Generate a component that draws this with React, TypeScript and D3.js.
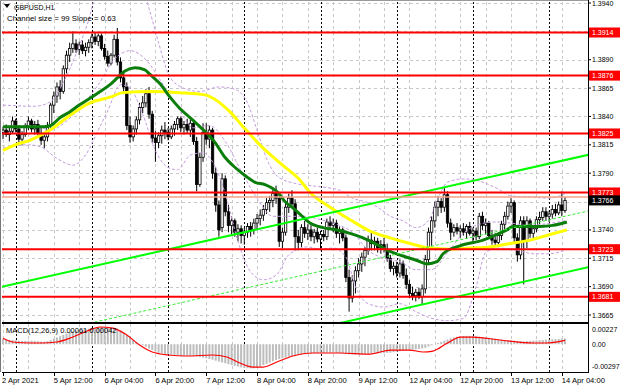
import React from 'react';
import * as d3 from 'd3';

// ---- data ----
const symbolTitle = 'GBPUSD,H1';
const channelText = 'Channel size = 99 Slope = 0.63';
const macdText = 'MACD(12,26,9) 0.00061 0.00042';

const timeLabels = ['2 Apr 2021', '5 Apr 12:00', '6 Apr 04:00', '6 Apr 20:00', '7 Apr 12:00', '8 Apr 04:00',
  '8 Apr 20:00', '9 Apr 12:00', '12 Apr 04:00', '12 Apr 20:00', '13 Apr 12:00', '14 Apr 04:00'];
const labelStep = 16; // bars between time labels
const daySeparators = [4, 28, 52, 76, 100, 124, 148, 172];

const priceTicks = [1.394, 1.389, 1.3865, 1.384, 1.3815, 1.379, 1.374, 1.3715, 1.369, 1.3665];
const gridPrices = [1.394, 1.3915, 1.389, 1.3865, 1.384, 1.3815, 1.379, 1.3765, 1.374, 1.3715, 1.369, 1.3665];
const levels = [1.3914, 1.3876, 1.3825, 1.3773, 1.3723, 1.3681];
const askPrice = 1.3769;
const lastPrice = 1.3766;

// open, high, low, close per H1 bar (2 Apr 20:00 .. 14 Apr 05:00)
const candles: [number, number, number, number][] = [
  [1.3826, 1.3831, 1.3820, 1.3828], [1.3828, 1.3833, 1.3822, 1.3824], [1.3824, 1.3830, 1.3818, 1.3827], [1.3827, 1.3840, 1.3825, 1.3836],
  [1.3836, 1.3838, 1.3826, 1.3829], [1.3829, 1.3832, 1.3816, 1.3820], [1.3820, 1.3827, 1.3815, 1.3824], [1.3824, 1.3834, 1.3822, 1.3832],
  [1.3832, 1.3840, 1.3828, 1.3836], [1.3836, 1.3838, 1.3826, 1.3829], [1.3829, 1.3836, 1.3824, 1.3833], [1.3833, 1.3837, 1.3822, 1.3825],
  [1.3825, 1.3830, 1.3815, 1.3819], [1.3819, 1.3826, 1.3812, 1.3822], [1.3822, 1.3835, 1.3818, 1.3832], [1.3832, 1.3852, 1.3830, 1.3850],
  [1.3850, 1.3862, 1.3843, 1.3858], [1.3858, 1.3870, 1.3852, 1.3866], [1.3866, 1.3872, 1.3855, 1.3862], [1.3862, 1.3885, 1.3860, 1.3882],
  [1.3882, 1.3898, 1.3878, 1.3894], [1.3894, 1.3905, 1.3888, 1.3900], [1.3900, 1.3915, 1.3896, 1.3904], [1.3904, 1.3908, 1.3896, 1.3899],
  [1.3899, 1.3906, 1.3894, 1.3903], [1.3903, 1.3907, 1.3895, 1.3898], [1.3898, 1.3905, 1.3893, 1.3901], [1.3901, 1.3908, 1.3896, 1.3905],
  [1.3905, 1.3913, 1.3900, 1.3910], [1.3910, 1.3914, 1.3903, 1.3906], [1.3906, 1.3913, 1.3902, 1.3911], [1.3911, 1.3913, 1.3898, 1.3900],
  [1.3900, 1.3904, 1.3890, 1.3893], [1.3893, 1.3898, 1.3884, 1.3887], [1.3887, 1.3896, 1.3885, 1.3894], [1.3894, 1.3912, 1.3892, 1.3908],
  [1.3908, 1.3918, 1.3885, 1.3888], [1.3888, 1.3892, 1.3870, 1.3874], [1.3874, 1.3880, 1.3862, 1.3866], [1.3866, 1.3870, 1.3828, 1.3832],
  [1.3832, 1.3840, 1.3817, 1.3822], [1.3822, 1.3832, 1.3818, 1.3829], [1.3829, 1.3840, 1.3824, 1.3837], [1.3837, 1.3852, 1.3833, 1.3848],
  [1.3848, 1.3858, 1.3843, 1.3852], [1.3852, 1.3864, 1.3848, 1.3860], [1.3860, 1.3866, 1.3838, 1.3842], [1.3842, 1.3845, 1.3817, 1.3821],
  [1.3821, 1.3827, 1.3800, 1.3817], [1.3817, 1.3826, 1.3812, 1.3823], [1.3823, 1.3832, 1.3816, 1.3828], [1.3828, 1.3835, 1.3820, 1.3826],
  [1.3826, 1.3830, 1.3819, 1.3822], [1.3822, 1.3832, 1.3820, 1.3829], [1.3829, 1.3836, 1.3823, 1.3833], [1.3833, 1.3840, 1.3828, 1.3838],
  [1.3838, 1.3840, 1.3826, 1.3830], [1.3830, 1.3836, 1.3824, 1.3833], [1.3833, 1.3838, 1.3825, 1.3828], [1.3828, 1.3837, 1.3822, 1.3834],
  [1.3834, 1.3837, 1.3815, 1.3818], [1.3818, 1.3822, 1.3774, 1.3780], [1.3780, 1.3808, 1.3778, 1.3804], [1.3804, 1.3834, 1.3800, 1.3826],
  [1.3826, 1.3834, 1.3815, 1.3820], [1.3820, 1.3832, 1.3812, 1.3828], [1.3828, 1.3830, 1.3785, 1.3790], [1.3790, 1.3795, 1.3756, 1.3762],
  [1.3762, 1.3766, 1.3734, 1.3740], [1.3742, 1.3790, 1.3738, 1.3785], [1.3785, 1.3788, 1.3752, 1.3756], [1.3756, 1.3762, 1.3738, 1.3744],
  [1.3744, 1.3752, 1.3736, 1.3748], [1.3748, 1.3750, 1.3734, 1.3738], [1.3738, 1.3745, 1.3730, 1.3741], [1.3741, 1.3744, 1.3728, 1.3735],
  [1.3735, 1.3742, 1.3727, 1.3738], [1.3738, 1.3746, 1.3733, 1.3743], [1.3743, 1.3747, 1.3734, 1.3740], [1.3740, 1.3750, 1.3736, 1.3746],
  [1.3746, 1.3754, 1.3740, 1.3750], [1.3750, 1.3758, 1.3744, 1.3753], [1.3753, 1.3762, 1.3748, 1.3758], [1.3758, 1.3768, 1.3754, 1.3764],
  [1.3764, 1.3770, 1.3756, 1.3766], [1.3766, 1.3776, 1.3760, 1.3772], [1.3772, 1.3779, 1.3763, 1.3768], [1.3768, 1.3772, 1.3725, 1.3730],
  [1.3730, 1.3742, 1.3724, 1.3738], [1.3738, 1.3765, 1.3735, 1.3760], [1.3760, 1.3772, 1.3755, 1.3768], [1.3768, 1.3775, 1.3760, 1.3763],
  [1.3763, 1.3767, 1.3722, 1.3734], [1.3734, 1.3740, 1.3722, 1.3729], [1.3729, 1.3745, 1.3725, 1.3742], [1.3742, 1.3748, 1.3733, 1.3737],
  [1.3737, 1.3745, 1.3731, 1.3740], [1.3740, 1.3744, 1.3730, 1.3734], [1.3734, 1.3741, 1.3728, 1.3738], [1.3738, 1.3742, 1.3729, 1.3732],
  [1.3732, 1.3739, 1.3722, 1.3736], [1.3736, 1.3740, 1.3730, 1.3734], [1.3734, 1.3750, 1.3731, 1.3747], [1.3747, 1.3752, 1.3740, 1.3744],
  [1.3744, 1.3750, 1.3738, 1.3746], [1.3746, 1.3749, 1.3733, 1.3737], [1.3737, 1.3743, 1.3728, 1.3740], [1.3740, 1.3742, 1.3730, 1.3733],
  [1.3733, 1.3736, 1.3694, 1.3698], [1.3698, 1.3705, 1.3668, 1.3680], [1.3680, 1.3700, 1.3676, 1.3695], [1.3695, 1.3708, 1.3684, 1.3704],
  [1.3704, 1.3715, 1.3698, 1.3710], [1.3710, 1.3720, 1.3703, 1.3716], [1.3716, 1.3725, 1.3708, 1.3722], [1.3722, 1.3735, 1.3718, 1.3731],
  [1.3731, 1.3738, 1.3722, 1.3728], [1.3728, 1.3734, 1.3722, 1.3730], [1.3730, 1.3733, 1.3720, 1.3724], [1.3724, 1.3731, 1.3719, 1.3727],
  [1.3727, 1.3733, 1.3720, 1.3723], [1.3723, 1.3728, 1.3712, 1.3715], [1.3715, 1.3718, 1.3703, 1.3706], [1.3706, 1.3712, 1.3700, 1.3708],
  [1.3708, 1.3712, 1.3698, 1.3702], [1.3702, 1.3714, 1.3698, 1.3710], [1.3710, 1.3713, 1.3697, 1.3700], [1.3700, 1.3706, 1.3688, 1.3692],
  [1.3692, 1.3696, 1.3680, 1.3684], [1.3684, 1.3690, 1.3678, 1.3682], [1.3682, 1.3688, 1.3677, 1.3685], [1.3685, 1.3689, 1.3679, 1.3681],
  [1.3681, 1.3692, 1.3674, 1.3688], [1.3688, 1.3718, 1.3684, 1.3714], [1.3714, 1.3742, 1.3710, 1.3738], [1.3738, 1.3752, 1.3726, 1.3748],
  [1.3748, 1.3765, 1.3742, 1.3760], [1.3760, 1.3770, 1.3752, 1.3765], [1.3765, 1.3768, 1.3755, 1.3760], [1.3760, 1.3777, 1.3756, 1.3771],
  [1.3771, 1.3774, 1.3742, 1.3746], [1.3746, 1.3750, 1.3731, 1.3738], [1.3738, 1.3745, 1.3734, 1.3742], [1.3742, 1.3746, 1.3736, 1.3739],
  [1.3739, 1.3744, 1.3733, 1.3741], [1.3741, 1.3746, 1.3735, 1.3738], [1.3738, 1.3745, 1.3732, 1.3743], [1.3743, 1.3747, 1.3735, 1.3737],
  [1.3737, 1.3742, 1.3730, 1.3739], [1.3739, 1.3742, 1.3731, 1.3734], [1.3734, 1.3755, 1.3732, 1.3752], [1.3752, 1.3756, 1.3740, 1.3744],
  [1.3744, 1.3750, 1.3736, 1.3746], [1.3746, 1.3748, 1.3732, 1.3735], [1.3735, 1.3740, 1.3727, 1.3731], [1.3731, 1.3737, 1.3726, 1.3729],
  [1.3729, 1.3738, 1.3727, 1.3735], [1.3735, 1.3748, 1.3731, 1.3745], [1.3745, 1.3756, 1.3740, 1.3752], [1.3752, 1.3765, 1.3749, 1.3761],
  [1.3761, 1.3768, 1.3755, 1.3764], [1.3764, 1.3766, 1.3729, 1.3733], [1.3733, 1.3737, 1.3712, 1.3718], [1.3718, 1.3752, 1.3714, 1.3748],
  [1.3748, 1.3752, 1.3692, 1.3730], [1.3730, 1.3752, 1.3724, 1.3748], [1.3748, 1.3750, 1.3733, 1.3737], [1.3737, 1.3744, 1.3732, 1.3741],
  [1.3741, 1.3752, 1.3738, 1.3749], [1.3749, 1.3756, 1.3744, 1.3751], [1.3751, 1.3760, 1.3748, 1.3756], [1.3756, 1.3760, 1.3748, 1.3752],
  [1.3752, 1.3757, 1.3747, 1.3754], [1.3754, 1.3762, 1.3750, 1.3758], [1.3758, 1.3763, 1.3752, 1.3755], [1.3755, 1.3765, 1.3753, 1.3762],
  [1.3762, 1.3774, 1.3752, 1.3757], [1.3757, 1.3769, 1.3755, 1.3766],
];

// moving averages, [bar, price] read at key points
const maGreen: [number, number][] = [
  [0, 1.3831], [13, 1.3831], [15, 1.3832], [18, 1.3839], [21, 1.3844], [24, 1.385], [27.4, 1.3856], [30.6, 1.3862],
  [33.7, 1.3868], [36, 1.3874], [38.4, 1.388], [41.6, 1.3883], [44.7, 1.3881], [46.3, 1.3877], [49.4, 1.3869],
  [52.6, 1.3857], [55.7, 1.3847], [58.9, 1.3839], [62, 1.3831], [64.3, 1.3825], [66.8, 1.3817], [69.9, 1.3804],
  [73.1, 1.3795], [76.2, 1.3788], [79.4, 1.3782], [82.5, 1.378], [84.7, 1.3777], [86.6, 1.3773], [88.8, 1.3765],
  [91, 1.376], [93.5, 1.3754], [96.7, 1.3746], [100.8, 1.3742], [105.2, 1.374], [109.3, 1.3737], [113.4, 1.3733],
  [117.8, 1.3727], [121.9, 1.3721], [126, 1.3717], [130.4, 1.3713], [133.5, 1.371], [136.7, 1.3712], [138.6, 1.3719],
  [143.9, 1.3726], [151.2, 1.3731], [155.6, 1.3736], [158.7, 1.374], [160.6, 1.3743], [165, 1.3743], [169.1, 1.3743],
  [173.2, 1.3744], [177.6, 1.3747],
];
const maYellow: [number, number][] = [
  [0, 1.381], [3.8, 1.3815], [8.5, 1.3819], [14.8, 1.3828], [21.1, 1.3841], [27.4, 1.3852], [33.7, 1.3857],
  [37.8, 1.3861], [46.3, 1.3862], [55.7, 1.3861], [63.6, 1.3859], [66.8, 1.3855], [71.5, 1.3844], [75.6, 1.3831],
  [80.9, 1.3815], [87.2, 1.3799], [93.5, 1.3784], [96.7, 1.3773], [103, 1.376], [109.3, 1.3749], [115.6, 1.3739],
  [121.9, 1.3733], [128.2, 1.3728], [134.5, 1.3724], [140.8, 1.3723], [147.1, 1.3724], [153.4, 1.3725],
  [159.7, 1.3728], [166, 1.3731], [172.3, 1.3736], [177.6, 1.374],
];

// bollinger bands (dashed violet)
const bbUpper: [number, number][] = [
  [0, 1.385], [10, 1.3849], [15, 1.3853], [19, 1.387], [23, 1.3895], [27, 1.3925], [30, 1.3952], [44, 1.3952],
  [46, 1.3935], [49, 1.3905], [52, 1.3878], [56, 1.3866], [62, 1.3862], [68, 1.3866], [73, 1.3864], [77, 1.3852],
  [80, 1.3828], [83, 1.3803], [87, 1.3786], [92, 1.3781], [100, 1.3778], [106, 1.3775], [110, 1.3768], [114, 1.3765],
  [118, 1.376], [122, 1.3752], [126, 1.3748], [130, 1.3742], [134, 1.3748], [137, 1.3768], [140, 1.3782],
  [145, 1.3785], [150, 1.3783], [156, 1.3776], [160, 1.377], [166, 1.3769], [172, 1.3768], [177, 1.3772],
];
const bbMiddle: [number, number][] = [
  [0, 1.3831], [10, 1.3832], [15, 1.3828], [20, 1.3836], [25, 1.385], [30, 1.3868], [35, 1.389], [40, 1.3898],
  [45, 1.389], [50, 1.387], [55, 1.3848], [60, 1.383], [65, 1.3832], [70, 1.3818], [75, 1.3792], [80, 1.3768],
  [85, 1.3752], [90, 1.3752], [95, 1.3752], [100, 1.3749], [105, 1.3745], [110, 1.3738], [115, 1.3722],
  [120, 1.3715], [125, 1.3712], [130, 1.3705], [135, 1.3705], [140, 1.372], [145, 1.3737], [150, 1.3745],
  [155, 1.3747], [160, 1.3746], [165, 1.3744], [170, 1.3745], [177, 1.3748],
];
const bbLower: [number, number][] = [
  [0, 1.3812], [8, 1.3815], [12, 1.3813], [17, 1.3803], [22, 1.3797], [26, 1.3806], [30, 1.3828], [33, 1.3845],
  [37, 1.3868], [40, 1.3865], [44, 1.3842], [48, 1.381], [52, 1.3795], [55, 1.3793], [59, 1.3806], [63, 1.3808],
  [66, 1.38], [70, 1.3772], [74, 1.373], [78, 1.3703], [82, 1.3696], [86, 1.37], [90, 1.3718], [96, 1.3725],
  [100, 1.3723], [104, 1.3724], [108, 1.3716], [111, 1.369], [115, 1.3675], [120, 1.3672], [125, 1.3675],
  [130, 1.3668], [134, 1.3663], [140, 1.366], [145, 1.3662], [149, 1.369], [152, 1.372], [156, 1.3724],
  [162, 1.3722], [167, 1.3719], [172, 1.3719], [177, 1.3722],
];

// linear regression channel: [bar, price] at both ends
const channelUpper: [number, number][] = [[-5, 1.36869], [195, 1.38129]];
const channelMiddle: [number, number][] = [[-5, 1.36374], [195, 1.37634]];
const channelLower: [number, number][] = [[-5, 1.35879], [195, 1.37139]];

// MACD, in points of 0.00001
const macdHist = [
  55, 52, 48, 45, 43, 38, 35, 36, 38, 37, 35, 32, 28, 27,
  32, 44, 58, 72, 85, 100, 115, 128, 138, 145, 150, 155, 160, 166, 172,
  178, 183, 185, 183, 178, 178, 176, 168, 150, 125, 98, 72, 46, 24, 4,
  -12, -26, -45, -62, -78, -91, -98, -104, -108, -110, -113, -116, -119, -122, -124,
  -126, -128, -132, -138, -144, -150, -158, -166, -176, -186, -195, -204, -213, -222, -232,
  -240, -248, -254, -257, -258, -257, -250, -240, -222, -210, -196, -182, -168, -158, -150,
  -142, -133, -126, -120, -114, -108, -105, -100, -98, -96, -95, -95, -93, -91, -90,
  -90, -92, -95, -98, -103, -108, -110, -110, -108, -105, -102, -100, -98, -97, -96,
  -96, -95, -93, -90, -85, -80, -75, -70, -66, -62, -58, -55, -50, -45, -38,
  -25, -12, 0, 12, 25, 38, 50, 62, 72, 80, 85, 88, 90, 90, 88,
  85, 82, 78, 74, 70, 65, 60, 55, 50, 46, 42, 40, 38, 35, 33,
  32, 33, 35, 38, 40, 42, 45, 48, 50, 53, 55, 57, 59, 61,
];
const macdSignal: [number, number][] = [
  [0, 63], [3, 24], [9, 13], [12, 13], [17, 24], [22, 77], [26.5, 141], [30.5, 184], [34.6, 173], [39, 98],
  [43, -9], [47, -83], [52, -115], [58, -126], [66, -115], [70.5, -137], [74.6, -201], [78.7, -244], [82, -244],
  [86.3, -190], [91.3, -126], [97.6, -94], [106, -94], [115.6, -105], [122, -62], [128, -62], [132.3, -83],
  [135.4, -73], [140, 13], [144, 77], [148, 77], [156.5, 45], [167, 13], [171, 13], [177, 42],
];
const macdLabels: [number, string][] = [[227, '0.00227'], [0, '0.00'], [-297, '-0.00297']];

// ---- layout ----
const W = 620, H = 388;
const L = 2, R = 588, T = 2, B = 322;
const MT = 324, MB = 372;
const font = '"Liberation Sans", Arial, sans-serif';

const App = () => {
  const x = d3.scaleLinear().domain([0, 177]).range([3, 565]);
  const y = d3.scaleLinear().domain([1.3665, 1.394]).range([315, 3]);
  const ym = d3.scaleLinear().domain([-297, 227]).range([MB, MT - 1]);

  const curve = d3.line<[number, number]>().x(d => x(d[0])).y(d => y(d[1])).curve(d3.curveMonotoneX);
  const straight = d3.line<[number, number]>().x(d => x(d[0])).y(d => y(d[1]));
  const sigLine = d3.line<[number, number]>().x(d => x(d[0])).y(d => ym(d[1])).curve(d3.curveMonotoneX);

  const vGrid = d3.range(0, 180, 8);

  return (
    <svg width={W} height={H} style={{ position: 'absolute', left: 0, top: 0, background: '#fff' }}
      fontFamily={font}>
      <defs>
        <clipPath id="main"><rect x={L} y={T} width={R - L} height={B - T} /></clipPath>
        <clipPath id="macd"><rect x={L} y={MT} width={R - L} height={MB - MT} /></clipPath>
      </defs>
      <rect width={W} height={H} fill="#fff" />

      {/* grid */}
      <g stroke="#c8c8c8" strokeWidth={1} strokeDasharray="3,3" shapeRendering="crispEdges">
        {gridPrices.map(p => <line key={p} x1={L} x2={R} y1={Math.round(y(p)) + 0.5} y2={Math.round(y(p)) + 0.5} />)}
        {vGrid.map(b => (
          <g key={b}>
            <line x1={Math.round(x(b)) + 0.5} x2={Math.round(x(b)) + 0.5} y1={T} y2={B} />
            <line x1={Math.round(x(b)) + 0.5} x2={Math.round(x(b)) + 0.5} y1={MT} y2={MB} />
          </g>
        ))}
      </g>
      <g stroke="#000" strokeWidth={1} strokeDasharray="2,2" shapeRendering="crispEdges">
        {daySeparators.map(b => (
          <line key={b} x1={Math.round(x(b)) + 0.5} x2={Math.round(x(b)) + 0.5} y1={T} y2={MB} />
        ))}
      </g>

      {/* main pane */}
      <g clipPath="url(#main)">
        <g>
          {candles.map((c, i) => {
            const [o, h, l, cl] = c;
            const cx = x(i);
            const top = y(Math.max(o, cl));
            const bot = y(Math.min(o, cl));
            return (
              <g key={i}>
                <line x1={cx} x2={cx} y1={y(h)} y2={y(l)} stroke="#000" strokeWidth={1} />
                <rect x={cx - 1.2} y={top} width={2.4} height={Math.max(bot - top, 0.8)}
                  fill={cl >= o ? '#fff' : '#000'} stroke="#000" strokeWidth={0.8} />
              </g>
            );
          })}
        </g>
        <g fill="none" stroke="#c59be0" strokeWidth={1} strokeDasharray="3,2">
          <path d={curve(bbUpper) || ''} />
          <path d={curve(bbMiddle) || ''} />
          <path d={curve(bbLower) || ''} />
        </g>
        <path d={curve(maYellow) || ''} fill="none" stroke="#ffff00" strokeWidth={3} />
        <path d={curve(maGreen) || ''} fill="none" stroke="#0a7d0a" strokeWidth={3} />
        <path d={straight(channelUpper) || ''} fill="none" stroke="#00ff00" strokeWidth={2} />
        <path d={straight(channelMiddle) || ''} fill="none" stroke="#33ee33" strokeWidth={1} strokeDasharray="3,2" />
        <path d={straight(channelLower) || ''} fill="none" stroke="#00ff00" strokeWidth={2} />
        <line x1={L} x2={R} y1={y(askPrice)} y2={y(askPrice)} stroke="#f3a58a" strokeWidth={1.5} />
        {levels.map(p => (
          <line key={p} x1={L} x2={R} y1={y(p)} y2={y(p)} stroke="#ff0000" strokeWidth={2} />
        ))}
      </g>

      {/* macd pane */}
      <g clipPath="url(#macd)">
        {macdHist.map((v, i) => (
          <rect key={i} x={x(i) - 1} width={2} y={Math.min(ym(v), ym(0))} height={Math.abs(ym(v) - ym(0))}
            fill="#bdbdbd" />
        ))}
        <path d={sigLine(macdSignal) || ''} fill="none" stroke="#ff0000" strokeWidth={1.2} />
      </g>

      {/* frames */}
      <g stroke="#000" fill="none" shapeRendering="crispEdges">
        <line x1={R + 0.5} x2={R + 0.5} y1={0} y2={MB} />
        <line x1={L} x2={R} y1={B + 0.5} y2={B + 0.5} />
        <line x1={L} x2={R} y1={MT - 0.5} y2={MT - 0.5} />
        <line x1={L} x2={R + 1} y1={MB + 0.5} y2={MB + 0.5} />
      </g>
      <line x1={0.5} x2={0.5} y1={0} y2={MB} stroke="#777" shapeRendering="crispEdges" />
      <line x1={0} x2={R} y1={0.5} y2={0.5} stroke="#999" shapeRendering="crispEdges" />

      {/* price axis */}
      <g fontSize={7} fill="#000">
        {priceTicks.map(p => (
          <g key={p}>
            <line x1={R} x2={R + 3} y1={y(p)} y2={y(p)} stroke="#000" />
            <text x={592} y={y(p) + 2.5}>{p.toFixed(4)}</text>
          </g>
        ))}
        {levels.map(p => (
          <g key={p}>
            <rect x={R + 1} y={y(p) - 5} width={W - R - 1} height={10} fill="#ff0000" />
            <text x={592} y={y(p) + 2.5} fill="#fff">{p.toFixed(4)}</text>
          </g>
        ))}
        <rect x={R + 1} y={y(lastPrice) - 5} width={W - R - 1} height={10} fill="#000" />
        <text x={592} y={y(lastPrice) + 2.5} fill="#fff">{lastPrice.toFixed(4)}</text>
        {macdLabels.map(([v, s]) => (
          <text key={s} x={592} y={v === 227 ? 331.5 : v === 0 ? ym(v) + 2.5 : 368.5}>{s}</text>
        ))}
      </g>

      {/* time axis */}
      <g fontSize={7.6} fill="#000">
        {timeLabels.map((s, k) => {
          const bx = x(k * labelStep);
          return (
            <g key={s}>
              <line x1={Math.round(bx) + 0.5} x2={Math.round(bx) + 0.5} y1={MB} y2={MB + 4} stroke="#000" />
              <text x={k === 0 ? 2 : bx} y={383}>{s}</text>
            </g>
          );
        })}
      </g>

      {/* titles */}
      <path d="M4,4 L10,4 L7,8 Z" fill="#000" />
      <text x={14} y={10} fontSize={7} fill="#000">{symbolTitle}</text>
      <text x={7} y={21} fontSize={7.8} fill="#000">{channelText}</text>
      <text x={6} y={333} fontSize={7.5} fill="#000">{macdText}</text>
    </svg>
  );
};

export default App;
